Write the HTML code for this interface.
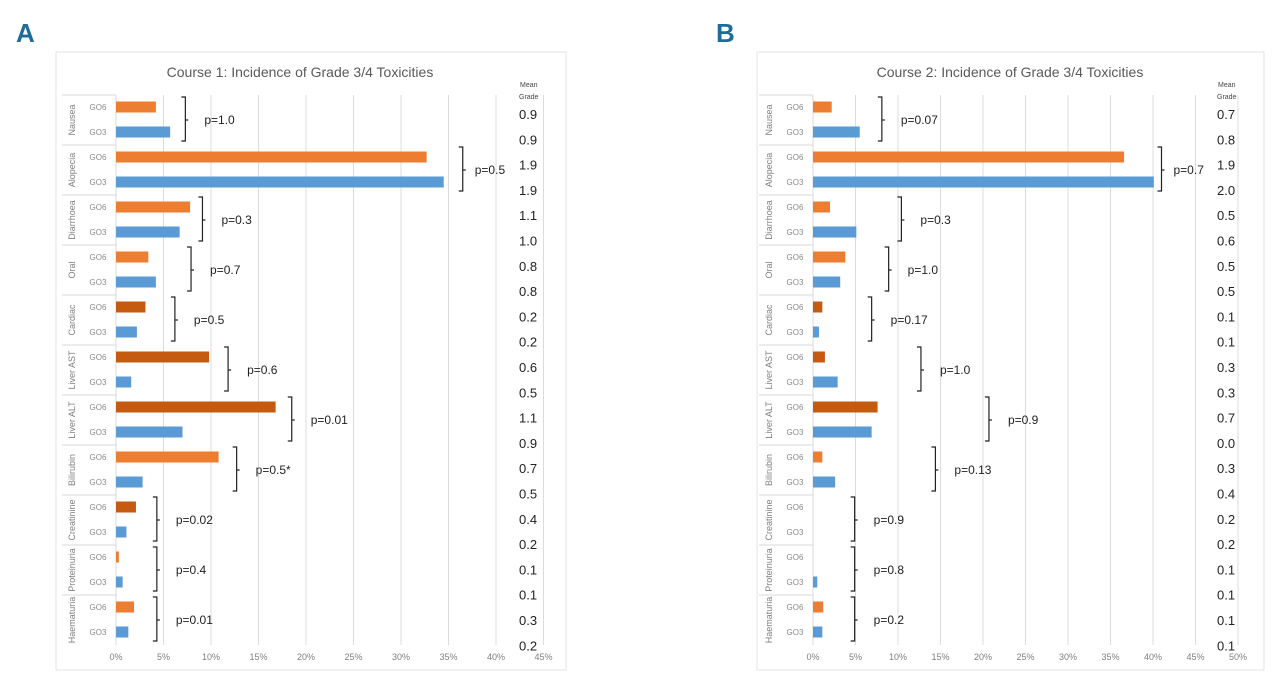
<!DOCTYPE html>
<html><head><meta charset="utf-8"><style>
html,body{margin:0;padding:0;background:#fff;}
svg{display:block;font-family:"Liberation Sans",sans-serif;}
</style></head><body>
<svg id="root" width="1280" height="684" viewBox="0 0 1280 684"></svg>
<script>
const categories=["Nausea","Alopecia","Diarrhoea","Oral","Cardiac","Liver AST","Liver ALT","Bilirubin","Creatinine","Proteinuria","Haematuria"];
const courseA_GO6=[4.2,32.7,7.8,3.4,3.1,9.8,16.8,10.8,2.1,0.3,1.9];
const courseA_GO3=[5.7,34.5,6.7,4.2,2.2,1.6,7.0,2.8,1.1,0.7,1.3];
const courseA_dark=[0,0,0,0,1,1,1,0,1,0,0];
const courseA_p=["p=1.0","p=0.5","p=0.3","p=0.7","p=0.5","p=0.6","p=0.01","p=0.5*","p=0.02","p=0.4","p=0.01"];
const courseA_bracketAt=[7.3,36.5,9.1,7.9,6.2,11.8,18.5,12.7,4.3,4.3,4.3];
const courseA_grades=["0.9","0.9","1.9","1.9","1.1","1.0","0.8","0.8","0.2","0.2","0.6","0.5","1.1","0.9","0.7","0.5","0.4","0.2","0.1","0.1","0.3","0.2"];
const courseA_ticks=["0%","5%","10%","15%","20%","25%","30%","35%","40%","45%"];
const courseB_GO6=[2.2,36.6,2.0,3.8,1.1,1.4,7.6,1.1,0,0,1.2];
const courseB_GO3=[5.5,40.1,5.1,3.2,0.7,2.9,6.9,2.6,0,0.5,1.1];
const courseB_dark=[0,0,0,0,1,1,1,0,0,0,0];
const courseB_p=["p=0.07","p=0.7","p=0.3","p=1.0","p=0.17","p=1.0","p=0.9","p=0.13","p=0.9","p=0.8","p=0.2"];
const courseB_bracketAt=[8.1,41.0,10.4,8.9,6.9,12.7,20.7,14.4,4.9,4.9,4.9];
const courseB_grades=["0.7","0.8","1.9","2.0","0.5","0.6","0.5","0.5","0.1","0.1","0.3","0.3","0.7","0.0","0.3","0.4","0.2","0.2","0.1","0.1","0.1","0.1"];
const courseB_ticks=["0%","5%","10%","15%","20%","25%","30%","35%","40%","45%","50%"];

const NS="http://www.w3.org/2000/svg";
const root=document.getElementById('root');
function mk(tag,attrs,parent,text){const e=document.createElementNS(NS,tag);for(const k in attrs)e.setAttribute(k,attrs[k]);if(text!==undefined)e.textContent=text;(parent||root).appendChild(e);return e;}

function panel(o){
  const g=mk('g',{});
  
  
  const letter=mk('text',{x:o.letterX,y:42,'font-size':26,'font-weight':'bold',fill:'#1f6b9c'},g,o.letter);
  
  
  const fr=mk('rect',{x:o.fx,y:52,width:o.fw,height:618,fill:'#fff',stroke:'#e3e3e3'},g);
  
  
  const t=mk('text',{x:o.titleX,y:77,'font-size':14,fill:'#595959','text-anchor':'middle'},g,o.title);
  
  
  const sx=v=>o.x0+v*o.ppu;
  o.ticks.forEach((lab,i)=>{
    const x=sx(i*5);
    if(i>0){const l=mk('line',{x1:x,x2:x,y1:95,y2:645,stroke:'#dcdcdc','stroke-width':1},g);
      }
    const tx=mk('text',{x:x,y:660,'font-size':9,fill:'#7f7f7f','text-anchor':'middle'},g,lab);
    
  });
  const top=95,band=50;
  mk('line',{x1:o.x0,x2:o.x0,y1:top,y2:top+band*11,stroke:'#d9d9d9'},g);
  categories.forEach((c,i)=>{
    const y0=top+i*band;
    mk('line',{x1:o.x0-54,x2:o.x0,y1:y0,y2:y0,stroke:'#d9d9d9'},g);
    const cx=o.x0-44,cy=y0+band/2;
    const ct=mk('text',{x:cx,y:cy,'font-size':9,fill:'#7f7f7f','text-anchor':'middle',transform:`rotate(-90 ${cx} ${cy})`,dy:3},g,c);
    
    const yA=y0+12,yB=y0+37;
    const l1=mk('text',{x:o.x0-18,y:yA+3,'font-size':8,fill:'#8a8a8a','text-anchor':'middle'},g,'GO6');
    
    const l2=mk('text',{x:o.x0-18,y:yB+3,'font-size':8,fill:'#8a8a8a','text-anchor':'middle'},g,'GO3');
    
    const v6=o.go6[i],v3=o.go3[i];
    if(v6>0){const b=mk('rect',{x:o.x0,y:yA-5.5,width:sx(v6)-o.x0,height:11,fill:o.dark[i]?'#c55a11':'#ed7d31'},g);
      }
    if(v3>0){const b=mk('rect',{x:o.x0,y:yB-5.5,width:sx(v3)-o.x0,height:11,fill:'#5b9bd5'},g);
      }
    const bx=sx(o.bracket[i]);
    const br=mk('path',{d:`M${bx-4},${y0+2} L${bx},${y0+2} L${bx},${y0+46} L${bx-4},${y0+46} M${bx},${cy} L${bx+3},${cy}`,stroke:'#222',fill:'none','stroke-width':1.2},g);
    
    const pt=mk('text',{x:bx+(i===1?12:19),y:cy+4,'font-size':12,fill:'#222'},g,o.p[i]);
    
  });
  const m1=mk('text',{x:o.gx+1,y:87,'font-size':7,fill:'#444'},g,'Mean');
  
  mk('text',{x:o.gx,y:99,'font-size':7,fill:'#444'},g,'Grade');
  o.grades.forEach((v,i)=>{
    const tt=mk('text',{x:o.gx,y:119+i*25.3,'font-size':13,fill:'#222'},g,v);
    
  });
}
panel({id:'course-1',letter:'A',letterX:16,fx:56,fw:510,title:'Course 1: Incidence of Grade 3/4 Toxicities',titleX:300,x0:116,ppu:9.5,ticks:courseA_ticks,go6:courseA_GO6,go3:courseA_GO3,dark:courseA_dark,p:courseA_p,bracket:courseA_bracketAt,grades:courseA_grades,gx:519});
panel({id:'course-2',letter:'B',letterX:716,fx:757,fw:507,title:'Course 2: Incidence of Grade 3/4 Toxicities',titleX:1010,x0:813,ppu:8.5,ticks:courseB_ticks,go6:courseB_GO6,go3:courseB_GO3,dark:courseB_dark,p:courseB_p,bracket:courseB_bracketAt,grades:courseB_grades,gx:1217});
</script>
</body></html>
